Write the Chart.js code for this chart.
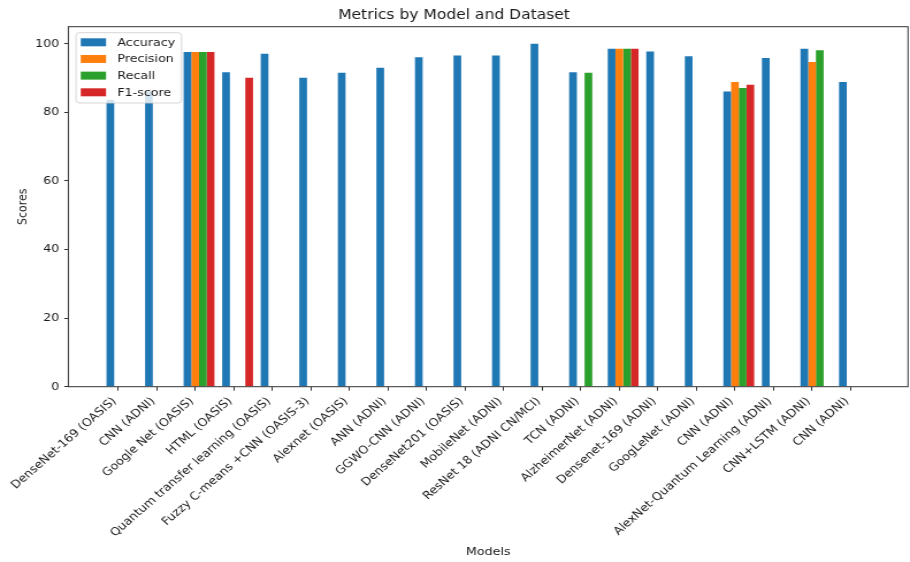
<!DOCTYPE html>
<html>
<head>
<meta charset="utf-8">
<script src="https://cdn.jsdelivr.net/npm/chart.js@4/dist/chart.umd.min.js"></script>
<style>
  html, body { margin: 0; padding: 0; background: #ffffff; overflow: hidden; }
  /* the bitmap is drawn narrower and widened to the page width */
  #chart { display: block; width: 910px; height: 562px; }
</style>
</head>
<body>
<canvas id="chart" width="791" height="562" style="width:910px;height:562px"></canvas>
<script>
// Model / dataset pairs along the x axis
const CATEGORIES = [
  'DenseNet-169 (OASIS)', 'CNN (ADNI)', 'Google Net (OASIS)', 'HTML (OASIS)',
  'Quantum transfer learning (OASIS)', 'Fuzzy C-means +CNN (OASIS-3)', 'Alexnet (OASIS)',
  'ANN (ADNI)', 'GGWO-CNN (ADNI)', 'DenseNet201 (OASIS)', 'MobileNet (ADNI)',
  'ResNet 18 (ADNI CN/MCI)', 'TCN (ADNI)', 'AlzheimerNet (ADNI)', 'Densenet-169 (ADNI)',
  'GoogLeNet (ADNI)', 'CNN (ADNI)', 'AlexNet-Quantum Learning (ADNI)', 'CNN+LSTM (ADNI)',
  'CNN (ADNI)'
];

// Reported scores (%); null where a paper gives no value
const ACCURACY  = [83.7, 86.0, 97.6, 91.7, 97.1, 90.1, 91.6, 93.0, 96.1, 96.6, 96.6, 100.0, 91.7, 98.6, 97.8, 96.4, 86.1, 95.9, 98.6, 88.9];
const PRECISION = [null, null, 97.6, null, null, null, null, null, null, null, null, null, null, 98.6, null, null, 88.9, null, 94.7, null];
const RECALL    = [null, null, 97.6, null, null, null, null, null, null, null, null, null, 91.6, 98.6, null, null, 87.1, null, 98.1, null];
const F1_SCORE  = [null, null, 97.6, 90.1, null, null, null, null, null, null, null, null, null, 98.6, null, null, 88.1, null, null, null];

const SERIES_NAMES = ['Accuracy', 'Precision', 'Recall', 'F1-score'];
const Y_TICKS = [0, 20, 40, 60, 80, 100];

const COLORS = ['#1f77b4', '#ff7f0e', '#2ca02c', '#d62728'];
const FONT_FAMILY = "'DejaVu Sans', 'Liberation Sans', sans-serif";
const TEXT_COLOR = '#1a1a1a';
const AXIS_COLOR = '#333333';
const BASE_SIZE = 11;

const toPoints = arr => arr.map((v, i) => ({ x: i, y: v }));

const datasets = [ACCURACY, PRECISION, RECALL, F1_SCORE].map((arr, k) => ({
  label: SERIES_NAMES[k],
  data: toPoints(arr),
  backgroundColor: COLORS[k],
  borderWidth: 0,
  categoryPercentage: 0.8,
  barPercentage: 1.0
}));

// Box around the whole plotting area
const framePlugin = {
  id: 'frame',
  afterDraw(chart) {
    const { ctx, chartArea: a } = chart;
    ctx.save();
    ctx.strokeStyle = AXIS_COLOR;
    ctx.lineWidth = 1;
    ctx.strokeRect(a.left, a.top, a.right - a.left, a.bottom - a.top);
    ctx.restore();
  }
};

// Legend drawn inside the upper-left corner of the plot
const innerLegendPlugin = {
  id: 'innerLegend',
  afterDatasetsDraw(chart) {
    const { ctx, chartArea: a } = chart;
    const sets = chart.data.datasets;
    ctx.save();
    ctx.font = BASE_SIZE + 'px ' + FONT_FAMILY;
    const x0 = a.left + 6.7;
    const y0 = a.top + 6;
    const patchX = x0 + 4.1;
    const patchW = 22;
    const patchH = 8;
    const textX = x0 + 35.9;
    const rowStart = y0 + 9.6;
    const rowStep = 16.67;
    let maxW = 0;
    sets.forEach(d => { maxW = Math.max(maxW, ctx.measureText(d.label).width); });
    const w = textX - x0 + maxW + 5.6;
    const h = rowStart - y0 + rowStep * (sets.length - 1) + 10.7;
    const r = 3;
    ctx.beginPath();
    ctx.moveTo(x0 + r, y0);
    ctx.lineTo(x0 + w - r, y0);
    ctx.arcTo(x0 + w, y0, x0 + w, y0 + r, r);
    ctx.lineTo(x0 + w, y0 + h - r);
    ctx.arcTo(x0 + w, y0 + h, x0 + w - r, y0 + h, r);
    ctx.lineTo(x0 + r, y0 + h);
    ctx.arcTo(x0, y0 + h, x0, y0 + h - r, r);
    ctx.lineTo(x0, y0 + r);
    ctx.arcTo(x0, y0, x0 + r, y0, r);
    ctx.closePath();
    ctx.fillStyle = 'rgba(255,255,255,0.8)';
    ctx.fill();
    ctx.strokeStyle = 'rgba(204,204,204,0.8)';
    ctx.lineWidth = 1;
    ctx.stroke();
    ctx.textBaseline = 'middle';
    ctx.textAlign = 'left';
    sets.forEach((d, i) => {
      const cy = rowStart + i * rowStep;
      ctx.fillStyle = d.backgroundColor;
      ctx.fillRect(patchX, cy - patchH / 2, patchW, patchH);
      ctx.fillStyle = TEXT_COLOR;
      ctx.fillText(d.label, textX, cy + 0.5);
    });
    ctx.restore();
  }
};

const tickFont = { family: FONT_FAMILY, size: BASE_SIZE };

new Chart(document.getElementById('chart'), {
  type: 'bar',
  data: { datasets },
  plugins: [framePlugin, innerLegendPlugin],
  options: {
    responsive: false,
    animation: false,
    devicePixelRatio: 1,
    layout: { padding: { left: 0, right: 1.7, top: 0, bottom: 0 } },
    plugins: {
      legend: { display: false },
      tooltip: { enabled: false },
      title: {
        display: true,
        text: 'Metrics by Model and Dataset',
        color: TEXT_COLOR,
        font: { family: FONT_FAMILY, size: 13.5, weight: 'normal' },
        padding: { top: 6.9, bottom: 3.6 }
      }
    },
    scales: {
      x: {
        type: 'linear',
        min: -1.39,
        max: 20.39,
        bounds: 'data',
        offset: false,
        // tick marks sit under the second bar of each group
        afterBuildTicks: s => { s.ticks = CATEGORIES.map((_, i) => ({ value: i - 0.1 })); },
        afterFit: s => { s.height = 175.3; s.paddingLeft = 0; s.paddingRight = 0; },
        ticks: {
          stepSize: 1,
          autoSkip: false,
          minRotation: 45,
          maxRotation: 45,
          padding: 4,
          labelOffset: -3,
          color: TEXT_COLOR,
          font: tickFont,
          callback: (v, i) => (CATEGORIES[i] !== undefined ? CATEGORIES[i] : '')
        },
        grid: { display: true, offset: false, drawOnChartArea: false, drawTicks: true, tickLength: 4, color: AXIS_COLOR },
        border: { display: false },
        title: {
          display: true,
          text: 'Models',
          color: TEXT_COLOR,
          font: tickFont,
          padding: { top: 0, bottom: 3.1 }
        }
      },
      y: {
        min: 0,
        max: 105,
        bounds: 'data',
        afterBuildTicks: s => { s.ticks = Y_TICKS.map(v => ({ value: v })); },
        afterFit: s => { s.width = 59.4; },
        ticks: { padding: 4.3, color: TEXT_COLOR, font: tickFont },
        grid: { display: true, offset: false, drawOnChartArea: false, drawTicks: true, tickLength: 3.5, color: AXIS_COLOR },
        border: { display: false },
        title: {
          display: true,
          text: 'Scores',
          color: TEXT_COLOR,
          font: tickFont,
          padding: { top: 13.1, bottom: 0 }
        }
      }
    }
  }
});
</script>
</body>
</html>
